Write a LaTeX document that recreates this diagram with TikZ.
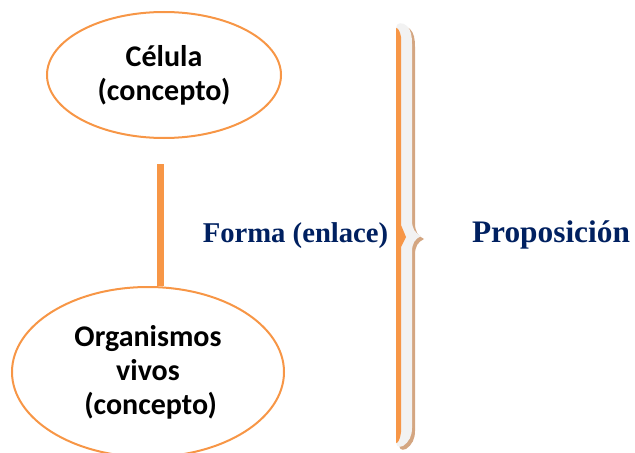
\documentclass[tikz,border=0pt]{standalone}
\usepackage{fontspec}
\setmainfont{Liberation Serif}
\newfontfamily\carlito{Carlito}
\usetikzlibrary{shapes.geometric}
\definecolor{naranja}{HTML}{F79646}
\definecolor{azul}{HTML}{002060}
\definecolor{gris}{HTML}{F2F2F2}
\definecolor{sombra}{HTML}{D4A681}

\begin{document}
\begin{tikzpicture}[x = 0.75pt, y = -0.75pt,
		concepto/.style = {ellipse, draw = naranja, line width = 1.5pt, inner sep = 0pt, align = center,
			font = \carlito\bfseries\fontsize{22.5}{25.5}\selectfont},
		enlace/.style = {draw = naranja, line width = 5.25pt},
		texto/.style = {anchor = base, text = azul, font = \bfseries\fontsize{#1}{26}\selectfont}]
				\useasboundingbox (0, 0) rectangle (635, 453);

				\node[concepto, minimum width = 175.5pt, minimum height = 94.5pt](cel) at (164, 75){C\'elula\\(concepto)};
				\node[concepto, minimum width = 204pt, minimum height = 127.5pt](org) at (148, 372){Organismos\\vivos\\\hspace*{4pt}(concepto)};

				\coordinate[](a) at (160, 164);
				\draw[enlace] (a)--(a |- org.north);

				\node[texto = 21.5](forma) at (295.5, 242){Forma (enlace)};
				\node[texto = 23.5](prop) at (551, 242){Proposici\'on};

				% llave
				\fill[sombra, shift = {(3, 3)}] (396, 28) .. controls (396, 22) and (403, 22) .. (407, 26) .. controls (411, 30) and (412, 36) .. (412, 44)--(412, 220) .. controls (412, 229) and (415, 233) .. (421, 236) .. controls (415, 239) and (412, 243) .. (412, 252)--(412, 428) .. controls (412, 436) and (409, 442) .. (403, 446) .. controls (398, 448) and (396, 446) .. (396, 440)--cycle;
				\fill[gris] (396, 28) .. controls (396, 22) and (403, 22) .. (407, 26) .. controls (411, 30) and (412, 36) .. (412, 44)--(412, 220) .. controls (412, 229) and (415, 233) .. (421, 236) .. controls (415, 239) and (412, 243) .. (412, 252)--(412, 428) .. controls (412, 436) and (409, 442) .. (403, 446) .. controls (398, 448) and (396, 446) .. (396, 440)--cycle;
				\fill[naranja] (396, 28) .. controls (398, 28) and (400, 31) .. (401, 37)--(401, 225)--(406, 237)--(401, 247)--(401, 432) .. controls (400, 440) and (398, 443) .. (396, 443)--cycle;
			\end{tikzpicture}
\end{document}
